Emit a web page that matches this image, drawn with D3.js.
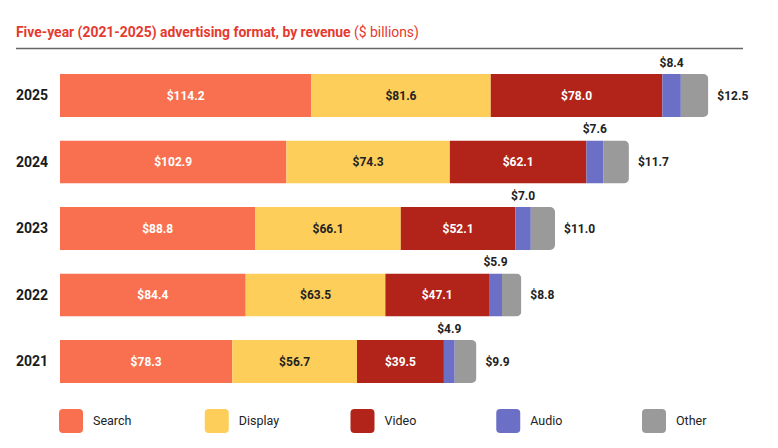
<!DOCTYPE html>
<html><head><meta charset="utf-8">
<script src="https://cdn.jsdelivr.net/npm/d3@7"></script>
<style>
body{margin:0;background:#fff;}
svg{display:block;font-family:Roboto, "Noto Sans", sans-serif;}
</style></head>
<body><svg id="c" width="778" height="448"></svg>
<script>
const years = ["2025","2024","2023","2022","2021"];
const categories = ["Search","Display","Video","Audio","Other"];
const search  = [114.2,102.9,88.8,84.4,78.3];
const display = [81.6,74.3,66.1,63.5,56.7];
const video   = [78.0,62.1,52.1,47.1,39.5];
const audio   = [8.4,7.6,7.0,5.9,4.9];
const other   = [12.5,11.7,11.0,8.8,9.9];
const colors  = ["#F8704F","#FECE5A","#B22419","#6B6FC6","#9A9A9A"];
const labelColors = ["#fff","#222","#fff",null,null];

const series = [search,display,video,audio,other];
const rows = years.map((y,i)=>({year:y, vals:series.map(s=>s[i])}));

const svg = d3.select("#c");
const x = d3.scaleLinear().domain([0,300]).range([60,720]);
const y = d3.scaleBand().domain(years).range([74,383]).paddingInner(0.353).paddingOuter(0);

// title
const t = svg.append("text").attr("x",16).attr("y",37).attr("font-size",13.9).attr("fill","#E53A2E");
t.append("tspan").attr("font-weight",700).text("Five-year (2021-2025) advertising format, by revenue");
t.append("tspan").attr("font-weight",400).text(" ($ billions)");
svg.append("line").attr("x1",16).attr("x2",743).attr("y1",48.5).attr("y2",48.5).attr("stroke","#666").attr("stroke-width",1.3);

const defs = svg.append("defs");
const g = svg.append("g");
rows.forEach((r,i)=>{
  const total = d3.sum(r.vals);
  const y0 = y(r.year), h = y.bandwidth();
  const cid = "clip"+i;
  defs.append("clipPath").attr("id",cid).append("rect")
    .attr("x",x(0)-20).attr("y",y0).attr("width",x(total)-x(0)+20).attr("height",h).attr("rx",5);
  const bg = g.append("g").attr("clip-path",`url(#${cid})`);
  let acc = 0;
  const segs = r.vals.map((v,k)=>{const s={k,v,a:acc,b:acc+v}; acc+=v; return s;});
  bg.selectAll("rect").data(segs).join("rect")
    .attr("x",d=>x(d.a)).attr("width",d=>x(d.b)-x(d.a))
    .attr("y",y0).attr("height",h).attr("fill",d=>colors[d.k]);
  // inner labels
  g.selectAll(null).data(segs.filter(d=>d.k<3)).join("text")
    .attr("x",d=>(x(d.a)+x(d.b))/2).attr("y",y0+h/2).attr("dy","0.35em")
    .attr("text-anchor","middle").attr("font-size",12).attr("font-weight",700)
    .attr("fill",d=>labelColors[d.k]).text(d=>"$"+d.v.toFixed(1));
  // audio label above
  const au = segs[3];
  g.append("text").attr("x",(x(au.a)+x(au.b))/2).attr("y",y0-7)
    .attr("text-anchor","middle").attr("font-size",12).attr("font-weight",700).attr("fill","#222")
    .text("$"+au.v.toFixed(1));
  // other label right
  const ot = segs[4];
  g.append("text").attr("x",x(ot.b)+9).attr("y",y0+h/2).attr("dy","0.35em")
    .attr("font-size",12).attr("font-weight",700).attr("fill","#222")
    .text("$"+ot.v.toFixed(1));
  // year
  g.append("text").attr("x",16).attr("y",y0+h/2).attr("dy","0.35em")
    .attr("font-size",14).attr("font-weight",700).attr("fill","#1a1a1a").text(r.year);
});

// legend
const lx = d3.scalePoint().domain(categories).range([59,642]);
const lg = svg.append("g").selectAll("g").data(categories).join("g")
  .attr("transform",d=>`translate(${lx(d)},409)`);
lg.append("rect").attr("width",24).attr("height",24).attr("rx",4).attr("fill",(d,i)=>colors[i]);
lg.append("text").attr("x",34).attr("y",12).attr("dy","0.35em").attr("font-size",12.5)
  .attr("fill","#222").text(d=>d);
</script></body></html>
